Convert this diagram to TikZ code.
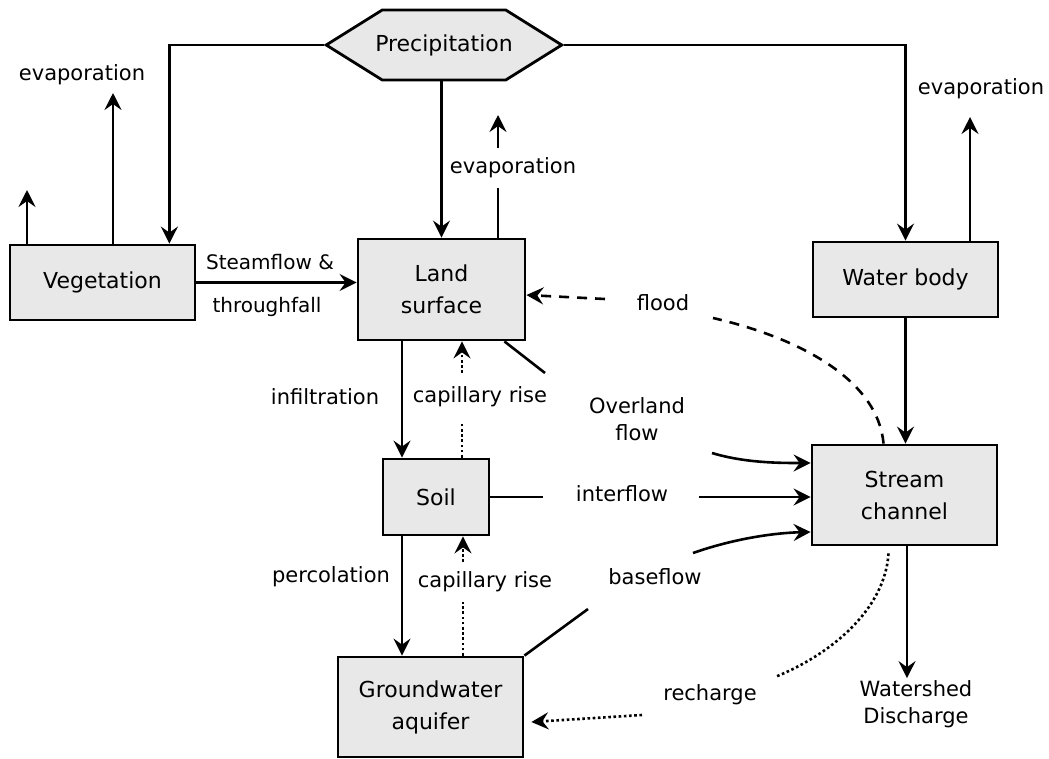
\documentclass[tikz,border=0pt]{standalone}
\usepackage{fontspec}
\setmainfont{DejaVu Sans}
\usetikzlibrary{shapes.symbols,arrows.meta}
\definecolor{boxgray}{HTML}{E8E8E8}

\begin{document}
\begin{tikzpicture}[x=1pt,y=-1pt,
    store/.style={draw,line width=2.8pt,fill=boxgray,align=center,
      font=\fontsize{22}{32}\selectfont,inner sep=0pt},
    lbl/.style={align=center,font=\fontsize{21}{27}\selectfont,inner sep=2pt},
    flow/.style={line width=2.6pt},
    arr/.style={flow,-{Stealth[length=17pt,width=17pt,inset=6pt]}},
    floodline/.style={dash pattern=on 10pt off 8pt},
    riseline/.style={dash pattern=on 2.6pt off 2.6pt}]
  \useasboundingbox (0,0) rectangle (1049,758);
  \node[store,signal,signal to=west and east,signal pointer angle=64,
    inner xsep=-7pt,minimum height=70pt] (prec) at (444,45) {Precipitation};
  \node[store,minimum width=185pt,minimum height=75pt] (veg) at (102.5,282.5) {Vegetation};
  \node[store,minimum width=167pt,minimum height=101pt] (land) at (441.5,289.5) {Land\\surface};
  \node[store,minimum width=185pt,minimum height=75pt] (water) at (905.5,279.5) {Water body};
  \node[store,minimum width=185pt,minimum height=100pt] (stream) at (904.5,495) {Stream\\channel};
  \node[store,minimum width=106pt,minimum height=76pt] (soil) at (436,497) {Soil};
  \node[store,minimum width=185pt,minimum height=100pt] (ground) at (430.5,707) {Groundwater\\aquifer};

  \node[lbl] (evveg) at (82,75) {evaporation};
  \node[lbl] (evland) at (513,168) {evaporation};
  \node[lbl] (evwater) at (981,89) {evaporation};
  \node[lbl,font=\fontsize{20}{26}\selectfont] (stem) at (270,262) {Steamflow \&};
  \node[lbl,font=\fontsize{20}{26}\selectfont] (thru) at (267,307) {throughfall};
  \node[lbl] (flood) at (663,303) {flood};
  \node[lbl] (infil) at (325,397) {infiltration};
  \node[lbl] (cap1) at (480,397) {capillary rise};
  \node[lbl] (over) at (637,419) {Overland\\flow};
  \node[lbl] (inter) at (622,494) {interflow};
  \node[lbl] (perc) at (331,577) {percolation};
  \node[lbl] (cap2) at (485,582) {capillary rise};
  \node[lbl] (base) at (655,577) {baseflow};
  \node[lbl] (rech) at (710,695) {recharge};
  \node[lbl] (wsd) at (916,704) {Watershed\\Discharge};

  \coordinate (ev1) at (27,190);
  \coordinate (ev2) at (113,93);
  \coordinate (le1) at (498,188);
  \coordinate (le2) at (498,148);
  \coordinate (le3) at (498,115);
  \coordinate (ev3) at (970,117);
  \coordinate (cl) at (402,0);
  \coordinate (c1a) at (462,422);
  \coordinate (c1b) at (462,373);
  \coordinate (c2a) at (463,602);
  \coordinate (c2b) at (463,562);
  \coordinate (fl1) at (713,318);
  \coordinate (fl2) at (605,299);
  \coordinate (ov1) at (545,373);
  \coordinate (ov2) at (712,453);
  \coordinate (if1) at (543,497);
  \coordinate (if2) at (699,497);
  \coordinate (bf1) at (588,609);
  \coordinate (bf2) at (693,553);
  \coordinate (rc1) at (775,677);
  \coordinate (rc2) at (642,715);

  \begin{scope}[flow]
    \draw[arr] (prec.west) -| ([xshift=-27pt]veg.north east);
    \draw[arr] (prec.east) -| (water.north);
    \draw[arr] (prec.south -| land.north) -- (land.north);
    \draw[arr] (ev1 |- veg.north) -- (ev1);
    \draw[arr] (ev2 |- veg.north) -- (ev2);
    \draw (le1 |- land.north) -- (le1);
    \draw[arr] (le2) -- (le3);
    \draw[arr] (ev3 |- water.north) -- (ev3);
    \draw[arr] (veg.east) -- (veg.east -| land.west);
    \draw[arr] (water.south) -- (water.south |- stream.north);
    \draw[arr] (cl |- land.south) -- (cl |- soil.north);
    \draw[arr] (cl |- soil.south) -- (cl |- ground.north);
    \draw[riseline] (c1a |- soil.north) -- (c1a);
    \draw[arr,riseline] (c1b) -- (c1b |- land.south);
    \draw[riseline] (c2a |- ground.north) -- (c2a);
    \draw[arr,riseline] (c2b) -- (c2b |- soil.south);
    \draw[floodline] ([xshift=-21pt]stream.north) .. controls (878,380) and (800,338) .. (fl1);
    \draw[arr,floodline] (fl2) -- ([yshift=-5.5pt]land.east);
    \draw ([xshift=-22pt]land.south east) -- (ov1);
    \draw[arr] (ov2) .. controls (745,463) and (780,463) .. ([yshift=32pt]stream.west);
    \draw (soil.east) -- (if1);
    \draw[arr] (if2) -- (if2 -| stream.west);
    \draw (ground.north east) -- (bf1);
    \draw[arr] (bf2) .. controls (730,540) and (770,533) .. ([yshift=-37pt]stream.west);
    \draw[riseline] ([xshift=-16pt,yshift=-7pt]stream.south) .. controls (885,610) and (830,655) .. (rc1);
    \draw[arr,riseline] (rc2) -- ([xshift=7pt,yshift=-15pt]ground.east);
    \draw[arr] ([xshift=2.5pt]stream.south) -- ([xshift=2.5pt]stream.south |- wsd.north);
  \end{scope}
\end{tikzpicture}
\end{document}
